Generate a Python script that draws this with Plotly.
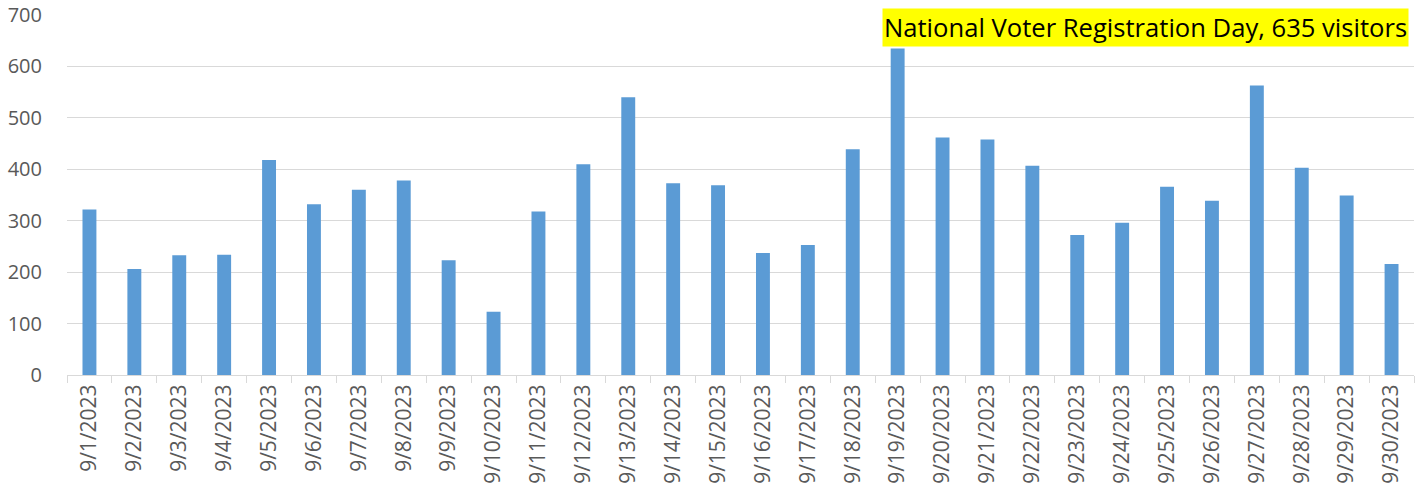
import plotly.graph_objects as go

dates = [f"9/{d}/2023" for d in range(1, 31)]
visitors = [322, 206, 233, 234, 418, 332, 360, 378, 223, 123,
            318, 410, 540, 373, 369, 237, 253, 439, 635, 462,
            458, 407, 272, 296, 366, 339, 563, 403, 349, 216]
y_ticks = [0, 100, 200, 300, 400, 500, 600, 700]
note = "National Voter Registration Day, 635 visitors"

fig = go.Figure(go.Bar(x=dates, y=visitors, marker=dict(color="#5b9bd5", line=dict(width=0))))

fig.update_layout(
    width=1424, height=496,
    margin=dict(l=67, r=10, t=15, b=121),
    paper_bgcolor="white", plot_bgcolor="white",
    bargap=0.69, showlegend=False,
    font=dict(family="Open Sans", color="#595959", size=20),
    xaxis=dict(type="category", tickangle=-90, showline=True, linecolor="#d9d9d9", linewidth=1,
               ticks="outside", tickson="boundaries", ticklen=7, tickcolor="#d9d9d9",
               tickfont=dict(size=21, color="#595959"), showgrid=False, automargin=False,
               ticklabeloverflow="allow"),
    yaxis=dict(range=[0, 700], tickvals=y_ticks, showgrid=True, gridcolor="#d9d9d9", gridwidth=1,
               zeroline=False, showline=False, ticks="outside", ticklen=20,
               tickcolor="rgba(0,0,0,0)", ticklabeloverflow="allow",
               tickfont=dict(size=20, color="#595959"), automargin=False),
    annotations=[dict(text=note, xref="paper", yref="paper", x=0.9963, y=1.0194,
                      xanchor="right", yanchor="top", showarrow=False, bgcolor="#ffff00",
                      borderpad=1, font=dict(family="Open Sans", size=25.6, color="black"))],
)

fig.write_html("out.html", config={"displayModeBar": False},
               post_script="document.body.style.margin='0';document.body.style.overflow='hidden';")
